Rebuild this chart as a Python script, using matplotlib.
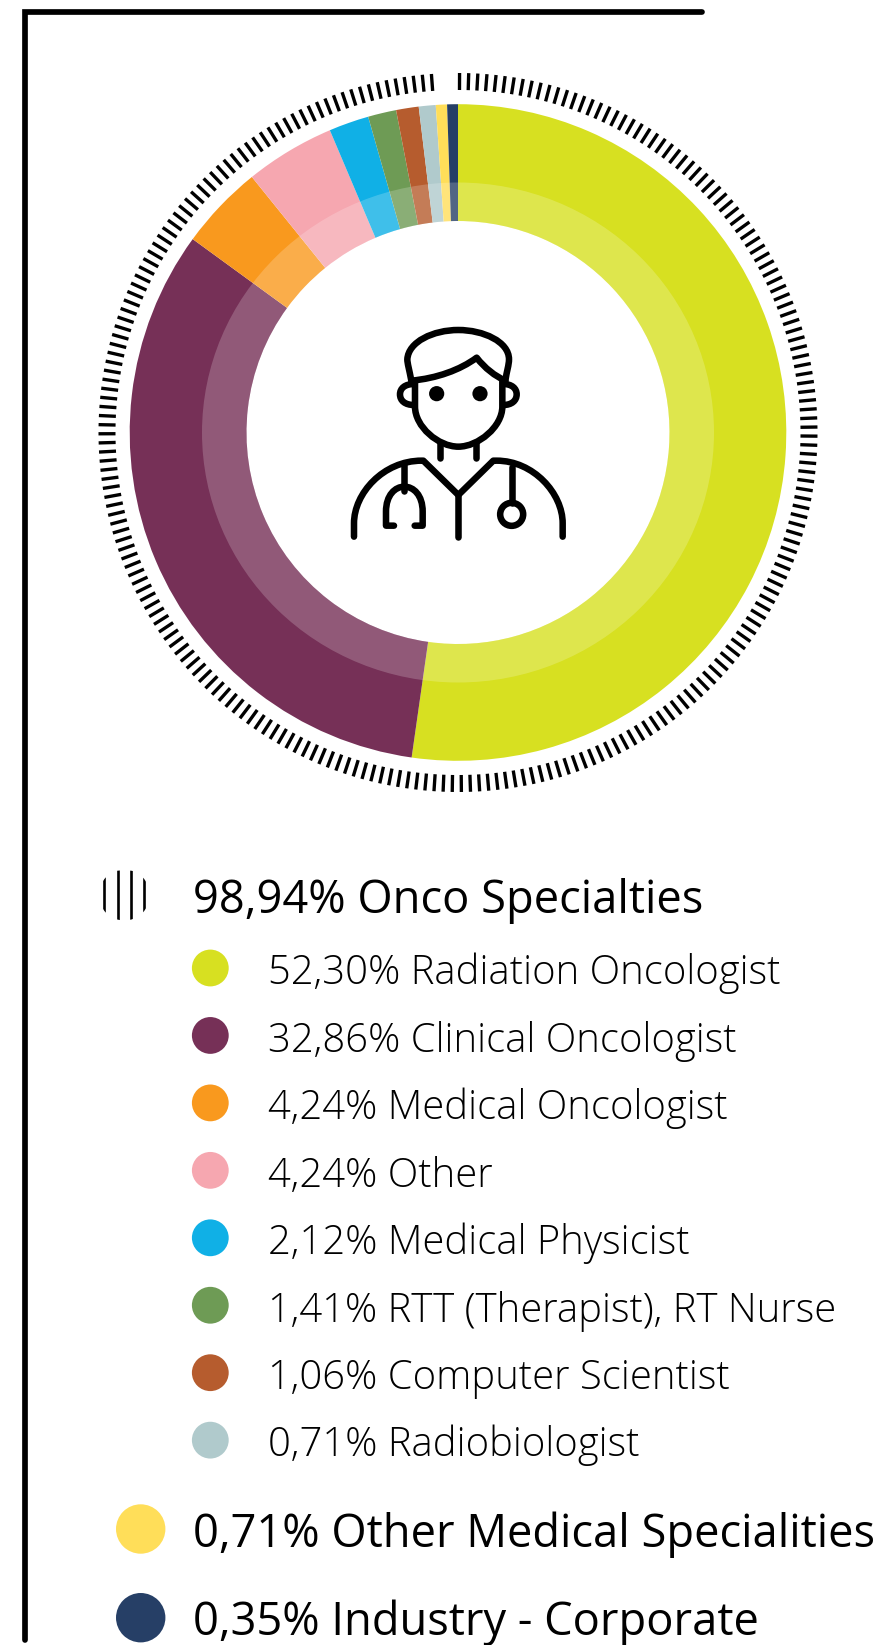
import numpy as np
import matplotlib
matplotlib.use("Agg")
import matplotlib.pyplot as plt
from matplotlib.collections import LineCollection
from matplotlib.patches import Circle, PathPatch
from matplotlib.path import Path
from matplotlib.transforms import Affine2D

# ---------- data ----------
labels = ["Radiation Oncologist", "Clinical Oncologist", "Medical Oncologist", "Other",
          "Medical Physicist", "RTT (Therapist), RT Nurse", "Computer Scientist",
          "Radiobiologist", "Other Medical Specialities", "Industry - Corporate"]
# shares printed in the legend
values = [52.30, 32.86, 4.24, 4.24, 2.12, 1.41, 1.06, 0.71, 0.71, 0.35]
drawn = [52.24, 32.76, 4.17, 4.42, 1.97, 1.39, 1.11, 0.83, 0.55, 0.53]
colors = ["#D7E021", "#763057", "#F9991E", "#F6A7B0", "#10B0E6",
          "#6E9B55", "#B65C2E", "#B0CACC", "#FFDE59", "#263F66"]
onco_label = "Onco Specialties"
onco_value = 98.94

W, H = 887, 1645
fig = plt.figure(figsize=(W / 100, H / 100), dpi=100)
ax = fig.add_axes([0, 0, 1, 1])

def Y(py):
    return H - py

# ---------- donut ----------
CX, CY = 458.0, 432.5
R_OUT, R_IN = 328.3, 211.5
MID_X, MID_Y = 256.0, 250.0
ax.pie(drawn, colors=colors, startangle=90, counterclock=False, radius=R_OUT,
       center=(CX, Y(CY)), wedgeprops=dict(width=R_OUT - R_IN, linewidth=0))
# paler inner band: slightly elliptical outer edge, circular inner edge
unit = Path.unit_circle()
outer = unit.transformed(Affine2D().scale(MID_X, MID_Y).translate(CX, Y(CY)))
inner = unit.transformed(Affine2D().scale(R_IN, -R_IN).translate(CX, Y(CY)))
ax.add_patch(PathPatch(Path.make_compound_path(outer, inner), fc="white", ec="none", alpha=0.2))

# ---------- tick band spanning the onco share ----------
span = onco_value / 100 * 360
ang = np.deg2rad(np.arange(0.25, span - 0.3, 1.457))
segs = [[(CX + 342.5 * np.sin(a), Y(CY) + 342.5 * np.cos(a)),
         (CX + 359.5 * np.sin(a), Y(CY) + 359.5 * np.cos(a))] for a in ang]
ax.add_collection(LineCollection(segs, colors="black", linewidths=2.4, capstyle="butt"))

# ---------- frame ----------
ax.plot([705 - 2.5, 24.8, 24.8], [Y(11.9), Y(11.9), Y(1639.5)], color="black", lw=4.1,
        solid_capstyle="round", solid_joinstyle="miter")

# ---------- doctor icon (pen strokes, in crop pixels of a 3x zoom) ----------
def ic(x, y):
    return (320 + x / 3, Y(310 + y / 3))

def stroke(points, codes):
    pts = [ic(*p) for p in points]
    ax.add_patch(PathPatch(Path(pts, codes), fill=False, ec="black", lw=4.7,
                           capstyle="round", joinstyle="round"))

M, L, C = Path.MOVETO, Path.LINETO, Path.CURVE4
stroke([(274, 212), (268, 180), (262, 160), (262, 148), (265, 95), (340, 60), (415, 60),
        (490, 60), (567, 95), (567, 148), (567, 165), (560, 185), (556, 212)],
       [M, C, C, C, C, C, C, C, C, C, C, C, C])
stroke([(274, 212), (350, 205), (420, 180), (470, 143), (495, 175), (525, 198), (556, 212)],
       [M, C, C, C, C, C, C])
stroke([(285, 215), (285, 290), (285, 290), (285, 350), (355, 410), (415, 410),
        (475, 410), (547, 350), (547, 290), (547, 260), (547, 240), (547, 215)],
       [M, L, L, C, C, C, C, C, C, C, C, C])
stroke([(282, 222), (255, 222), (240, 235), (240, 253), (240, 272), (255, 285), (282, 285)],
       [M, C, C, C, C, C, C])
stroke([(550, 222), (575, 222), (590, 235), (590, 253), (590, 272), (575, 285), (550, 285)],
       [M, C, C, C, C, C, C])
stroke([(361, 400), (361, 445)], [M, L])
stroke([(468, 400), (468, 445)], [M, L])
stroke([(102, 680), (102, 640), (102, 550), (190, 452), (305, 452), (310, 452), (415, 555),
        (520, 452), (530, 452), (640, 452), (728, 550), (728, 640), (728, 680)],
       [M, L, C, C, C, L, L, L, L, C, C, C, L])
stroke([(415, 555), (415, 680)], [M, L])
stroke([(252, 462), (252, 543)], [M, L])
stroke([(222, 647), (198, 647), (198, 605), (198, 505), (308, 505), (308, 605), (308, 647), (284, 647)],
       [M, L, L, C, C, C, L, L])
stroke([(575, 470), (575, 580)], [M, L])
cx0, cy0 = ic(575, 613)
ax.add_patch(Circle((cx0, cy0), 11.5, fill=False, ec="black", lw=4.7))
for ex in (350, 480):
    ax.add_patch(Circle(ic(ex, 251), 7.6, color="black", lw=0))

# ---------- legend ----------
FONT = "Open Sans"
HX, HY, HR = 124.3, 895, 25.5
clip = Circle((HX, Y(HY)), HR, transform=ax.transData, fc="none", ec="none")
ax.add_patch(clip)
for dx in (-20, -6.7, 6.7, 20):
    ln, = ax.plot([HX + dx, HX + dx], [Y(HY) - HR, Y(HY) + HR], color="black", lw=1.9,
                  solid_capstyle="butt")
    ln.set_clip_path(clip)
ax.text(193.5, Y(913), f"{onco_value:.2f}% {onco_label}".replace(".", ","),
        fontsize=32.55, family=FONT, color="black", va="baseline")

fmt = lambda v: f"{v:.2f}".replace(".", ",") + "%"
for i, (lab, v, c) in enumerate(zip(labels[:8], values[:8], colors[:8])):
    ax.add_patch(Circle((210.3, Y(968 + 67.45 * i)), 18.4, color=c, lw=0))
    ax.text(268.5, Y(984.5 + 67.4 * i), f"{fmt(v)} {lab}", fontsize=28.8, family=FONT,
            weight="light", color="black", va="baseline")
for py, base, lab, v, c in zip((1529, 1617.7), (1546.7, 1635), labels[8:], values[8:], colors[8:]):
    ax.add_patch(Circle((140.7, Y(py)), 24.7, color=c, lw=0))
    ax.text(193.5, Y(base), f"{fmt(v)} {lab}", fontsize=32.55, family=FONT, color="black",
            va="baseline")

ax.set_xlim(0, W)
ax.set_ylim(0, H)
ax.set_aspect("equal")
ax.axis("off")
fig.savefig("out.png", dpi=100, facecolor="white")
